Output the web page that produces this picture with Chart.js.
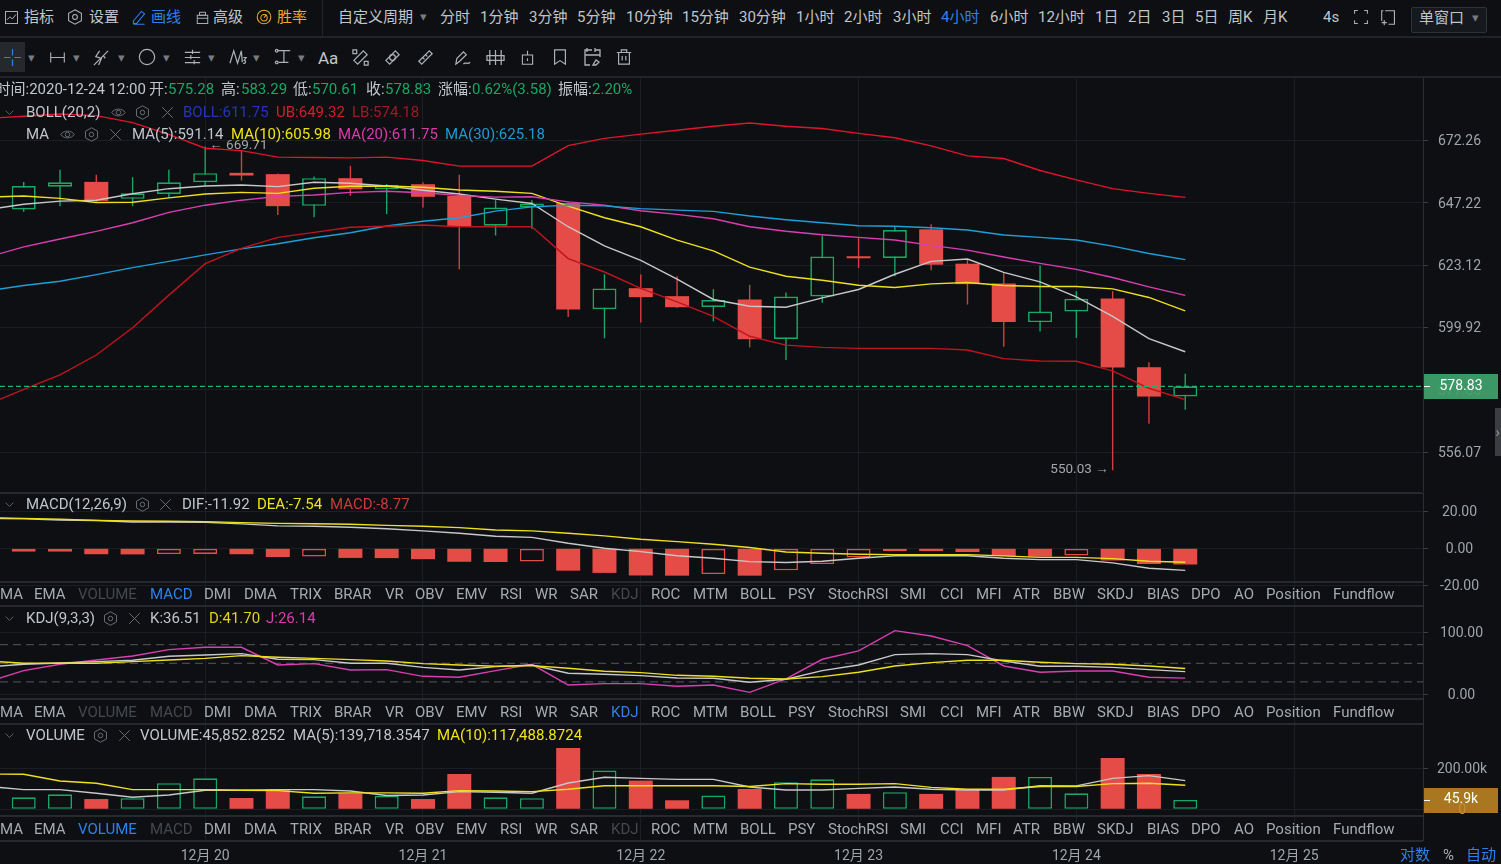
<!DOCTYPE html>
<html><head><meta charset="utf-8">
<script src="https://cdn.jsdelivr.net/npm/chart.js@4"></script>
<style>
html,body{margin:0;padding:0;background:#0d0f12;overflow:hidden;width:1501px;height:864px;font-family:Roboto,"Noto Sans CJK SC",sans-serif}
canvas{position:absolute;left:0}
.t{position:absolute;white-space:nowrap;transform:translateY(-50%);font-size:15px;line-height:16px;color:#c2c6cb;z-index:5}
.h{position:absolute;background:#24272b;z-index:4}
svg.i{position:absolute;z-index:5;overflow:visible;fill:none;stroke-width:1.3}
</style></head><body>
<script>
// ---------- data ----------
const opens =[644.58,653.58,655.47,648.75,650.64,655.35,659.09,658.57,645.98,656.96,652.53,654.55,649.96,638.23,645.36,647.14,606.62,614.44,611.46,607.44,610.23,595.76,611.35,626.49,625.83,636.83,623.66,616.2,601.89,605.77,610.61,585.6,575.28];
const highs =[655.47,660.30,658.29,657.36,660.30,669.71,668.36,658.8,657.61,661.91,654.67,655.35,658.29,648.22,648.22,647.87,619.66,619.54,618.91,614.07,615.67,612.84,634.36,633.58,637.84,638.77,625.21,620.51,623.0,613.33,613.33,587.38,583.29];
const lows  =[643.66,645.86,647.54,645.86,649.15,653.86,656.0,642.38,641.49,649.96,642.76,645.36,621.52,634.43,637.07,603.76,596.01,601.78,607.2,602.15,592.71,588.2,609.0,622.0,618.91,621.15,608.37,592.92,598.5,596.12,550.03,565.83,570.61];
const closes=[653.86,655.35,647.94,650.92,655.35,658.97,658.01,645.86,656.96,652.53,654.26,649.55,638.11,645.36,646.91,606.51,614.33,611.09,607.37,610.04,595.66,611.35,626.37,625.71,636.56,623.27,615.95,601.89,605.77,610.46,585.46,575.24,578.83];
// line series start one 4h bar before the first visible candle
const ma5 =[644.5,646.64,647.86,648.22,650.76,652.77,653.86,654.26,653.58,655.35,654.95,653.86,652.13,650.64,648.63,646.91,637.84,630.48,624.94,617.8,610.23,607.74,607.37,610.83,613.96,619.66,624.55,625.44,620.4,616.8,611.2,604.0,595.9,591.14];
const ma10=[649.4,649.87,648.95,647.3,647.42,649.15,650.64,651.32,650.92,652.93,653.74,653.86,653.34,652.25,651.73,650.92,645.86,641.33,637.84,632.69,628.54,622.38,618.91,617.42,615.56,614.7,616.04,616.56,615.45,615.07,615.07,614.18,610.98,605.98];
const ma20=[626.1,630.09,633.08,636.06,639.39,643.42,646.25,648.22,649.71,650.24,651.32,651.73,651.17,650.12,649.43,649.55,647.54,646.25,644.04,642.65,640.94,637.84,636.06,634.74,633.73,632.69,630.63,628.81,626.22,623.78,621.52,618.43,614.93,611.75];
const ma30=[613.4,615.45,617.05,619.54,622.15,624.55,626.99,629.32,631.26,633.58,635.52,638.11,639.94,641.33,643.93,645.59,646.25,645.98,644.9,644.31,643.81,641.99,640.55,639.39,638.23,638.0,637.46,636.56,634.63,633.73,632.69,630.36,627.53,625.18];
const bollUp=[681.32,682.16,683.13,682.45,679.51,674.68,669.04,668.07,665.42,665.26,665.13,665.42,664.05,661.79,661.79,661.79,670.09,673.07,674.8,676.41,678.02,679.35,678.02,677.09,675.08,673.31,669.97,665.94,664.85,660.02,656.28,652.77,650.92,649.32];
const bollLow=[572.51,577.79,582.87,589.97,599.81,611.84,623.66,629.47,633.73,635.67,637.61,638.0,638.5,637.84,637.84,637.84,625.6,620.51,614.33,609.34,604.0,596.72,593.52,592.71,592.35,592.35,592.35,591.75,588.66,587.84,587.74,584.29,578.15,574.18];
const lastPrice=578.83;
const priceTicks=[672.26,647.22,623.12,599.92,577.65,556.07];
const macdHist=[-1.9,-1.8,-3.2,-3.3,-3.1,-3.05,-3.2,-4.7,-4.5,-5.2,-5.3,-5.9,-7.3,-7.4,-7.2,-12.1,-13.3,-14.7,-14.8,-13.9,-14.8,-11.9,-8.5,-5,-1.4,-1.5,-2,-4.2,-4.5,-3.9,-6.6,-8.5,-8.77];
const macdDif=[16.2,15.9,15.3,15.0,14.2,14.2,14.05,13.2,12.1,11.9,11.35,10.6,9.4,8.1,6.5,5.9,2.7,0,-1.8,-4,-5.4,-7.2,-7.7,-7,-5.4,-4,-4,-4,-5.4,-6.1,-6.1,-7.9,-10.8,-11.92];
const macdDea=[16.6,16.2,15.7,15.1,14.8,14.6,14.4,13.9,13.5,13.3,13,12.4,11.9,11.2,9.9,9.4,8.1,6.7,4.9,3.6,2.2,0.4,-2,-2.7,-3.2,-3.4,-3.4,-3.4,-4.1,-4.9,-4.9,-5.6,-7,-7.54];
const macdTicks=[20,0,-20];
const kdjK=[44.3,48.4,50.5,52.7,54.8,61.3,63.4,65.6,56.5,55.9,50,50,43.5,39.2,44.6,47.3,33.9,32.3,30.1,26.3,25.8,19.4,24.2,38.2,47.3,64,65.6,64,53.8,45.2,45.2,43.5,39.8,36.51];
const kdjD=[54,50,50,50,52.7,55.4,58,62.4,59.7,58,55.9,53.8,49.5,47.3,45.2,46.2,41.9,37.1,34.9,30.6,29,25.8,24.7,28.5,35.5,45.7,51,54.8,54.8,51.6,49.5,48.4,45.7,41.70];
const kdjJ=[20,38.2,48.4,55.4,61.8,72,75.8,75.8,47.3,49.5,39.2,39.8,29,27.4,38.2,48.4,15,17.2,17.2,12.9,15,3.2,24.7,56.5,69.9,102.7,94.1,78.5,45.7,35.5,37.6,37.6,27.4,26.14];
const kdjLevels=[80,50,20];
const kdjTicks=[100,0];
const volume=[58.5,73,50,54,127,151,55,98,63,78,65,50,172,58.5,54,299,189,140,44,67,99,132,146,75,83,75,94,158,158,78,250,172,45.85];
const volMa5=[112,96,96,78,58.5,70,93,93,96,96,89,67,70,86,83,78,128,156,151,146,146,109,94,94,102,109,98,94,94,115,114,151,164,139.72];
const volMa10=[172,171,138,127,96,96,96,93,91,78,80,80,78,91,89,86,98,115,115,115,115,111,125,122,122,125,107,98,98,111,111,125,127,117.49];
const volTicks=[200,0];
const dateTicks=[6,12,18,24,30,36];
const dateLabels=['12月 20','12月 21','12月 22','12月 23','12月 24','12月 25'];
const tabNames=['MA','EMA','VOLUME','MACD','DMI','DMA','TRIX','BRAR','VR','OBV','EMV','RSI','WR','SAR','KDJ','ROC','MTM','BOLL','PSY','StochRSI','SMI','CCI','MFI','ATR','BBW','SKDJ','BIAS','DPO','AO','Position','Fundflow'];

// ---------- style ----------
const BG='#0d0f12',UP='#17a866',DOWN='#e54b47',DOWNW='#d23f3d',GRID='#1b1e22',AX='#2c2f34',TICK='#a0a5ab';
const cUB='#e2142c',cLB='#c0141f',cM5='#c8c8c8',cM10='#efe01e',cM20='#d93fb1',cM30='#1f9fd8';
const XMIN=0.347,XMAX=39.55;
const barIdx=opens.map((_,i)=>i+1);
const xy=a=>a.map((v,k)=>({x:k,y:v}));
const hline=v=>[{x:XMIN,y:v},{x:XMAX,y:v}];
const line=(data,color,w=1.4,extra={})=>Object.assign({type:'line',data,borderColor:color,borderWidth:w,pointRadius:0,tension:0,order:1},extra);
const xScale=(labels)=>({type:'linear',min:XMIN,max:XMAX,offset:false,bounds:'data',
  grid:{color:GRID,drawTicks:false,offset:false},border:{display:false},
  afterBuildTicks:s=>{s.ticks=dateTicks.map(v=>({value:v}))},
  afterFit:s=>{s.height=labels?24:0;s.paddingLeft=0;s.paddingRight=0},
  ticks:{display:!!labels,autoSkip:false,maxRotation:0,padding:8,color:TICK,font:{family:'Roboto,"Noto Sans CJK SC"',size:14},
    callback:v=>dateLabels[dateTicks.indexOf(v)]}});
const yScale=(type,min,max,vals,fmt,pad)=>({type,position:'right',min,max,bounds:'data',
  grid:{color:GRID,tickColor:'#3a3d42',tickLength:5},border:{color:AX,width:1},
  afterBuildTicks:s=>{s.ticks=vals.map(v=>({value:v}))},
  afterFit:s=>{s.width=78;s.paddingTop=0;s.paddingBottom=0},
  ticks:{autoSkip:false,crossAlign:'center',padding:pad,labelOffset:1.5,color:TICK,font:{family:'Roboto',size:14},callback:fmt}});

const boxPlugin=(id,value,text,color,alpha)=>({id,afterDraw(c){
  const y=c.scales.y.getPixelForValue(value),a=c.chartArea,ctx=c.ctx;
  ctx.save();ctx.globalAlpha=alpha;ctx.fillStyle=color;ctx.fillRect(a.right+1,Math.round(y)-12,74,25);ctx.globalAlpha=1;
  ctx.fillStyle='#fff';ctx.fillRect(a.right+1,Math.round(y),6,1);
  ctx.font='14px Roboto';ctx.textAlign='center';ctx.textBaseline='middle';ctx.fillText(text,a.right+38,y);ctx.restore();}});
const notePlugin={id:'notes',afterDatasetsDraw(c){
  const ctx=c.ctx;ctx.save();ctx.font='13.5px Roboto';ctx.fillStyle='#a3a6aa';ctx.textBaseline='middle';
  const hi=Math.max(...highs),lo=Math.min(...lows);
  let x=c.scales.x.getPixelForValue(highs.indexOf(hi)+1);
  ctx.textAlign='left';ctx.fillText('← '+hi.toFixed(2),x+4,c.scales.y.getPixelForValue(hi)-1);
  x=c.scales.x.getPixelForValue(lows.indexOf(lo)+1);
  ctx.textAlign='right';ctx.fillText(lo.toFixed(2)+' →',x-4,c.scales.y.getPixelForValue(lo)-1);
  ctx.restore();}};

function mk(top,h,datasets,scales,plugins=[]){
  const cv=document.createElement('canvas');cv.width=1501;cv.height=h;cv.style.top=top+'px';cv.style.width='1501px';cv.style.height=h+'px';
  document.body.appendChild(cv);
  return new Chart(cv,{type:'bar',data:{datasets},plugins,options:{responsive:false,animation:false,devicePixelRatio:1,
    layout:{padding:0,autoPadding:false},events:[],plugins:{legend:{display:false},tooltip:{enabled:false}},scales}});
}
const isUp=i=>closes[i]>=opens[i];
const macdHollow=i=>i===0||macdHist[i]>macdHist[i-1];

// main pane
mk(77,415,[
  line(hline(lastPrice),'#1db46f',1.2,{borderDash:[5,3],order:0}),
  line(xy(bollUp),cUB),line(xy(bollLow),cLB),
  line(xy(ma30),cM30),line(xy(ma20),cM20),line(xy(ma10),cM10),line(xy(ma5),cM5),
  {type:'bar',order:3,grouped:false,barThickness:24,borderSkipped:false,inflateAmount:0,
    borderWidth:c=>isUp(c.dataIndex)?1.7:0,
    data:opens.map((o,i)=>({x:barIdx[i],y:[o,closes[i]]})),
    backgroundColor:c=>isUp(c.dataIndex)?BG:DOWN,borderColor:c=>isUp(c.dataIndex)?UP:DOWN},
  {type:'bar',order:4,grouped:false,barThickness:1.4,borderWidth:0,inflateAmount:0,
    data:lows.map((l,i)=>({x:barIdx[i],y:[l,highs[i]]})),
    backgroundColor:c=>isUp(c.dataIndex)?UP:DOWNW},
],{x:xScale(false),y:yScale('logarithmic',542.8,698.65,priceTicks,v=>v.toFixed(2),10)},
[notePlugin,boxPlugin('pbox',lastPrice,lastPrice.toFixed(2),'#3fa36d',0.93)]);

// MACD pane
mk(493,113,[
  line(xy(macdDea),cM10,1.4,{order:0}),line(xy(macdDif),cM5,1.4,{order:1}),
  {type:'bar',order:3,grouped:false,barThickness:24,borderSkipped:false,inflateAmount:0,
    borderWidth:c=>macdHollow(c.dataIndex)?1.6:0,
    data:macdHist.map((v,i)=>({x:barIdx[i],y:v})),
    backgroundColor:c=>macdHollow(c.dataIndex)?BG:DOWN,borderColor:DOWN},
],{x:xScale(false),y:yScale('linear',-31.2,29.9,macdTicks,v=>v.toFixed(2),12)});

// KDJ pane
mk(606,118,[
  ...kdjLevels.map(v=>line(hline(v),'#55585e',1,{borderDash:[8,5],order:5})),
  line(xy(kdjJ),cM20,1.4,{order:2}),line(xy(kdjK),cM5,1.4,{order:1}),line(xy(kdjD),cM10,1.4,{order:0}),
],{x:xScale(false),y:yScale('linear',-47.9,142.4,kdjTicks,v=>v.toFixed(2),12)});

// Volume pane
mk(724,140,[
  line(xy(volMa10),cM10,1.4,{order:0}),line(xy(volMa5),cM5,1.4,{order:1}),
  {type:'bar',order:3,grouped:false,barThickness:24,borderSkipped:false,inflateAmount:0,
    borderWidth:c=>isUp(c.dataIndex)?1.6:0,
    data:volume.map((v,i)=>({x:barIdx[i],y:v})),
    backgroundColor:c=>isUp(c.dataIndex)?BG:DOWN,borderColor:c=>isUp(c.dataIndex)?UP:DOWN},
],{x:xScale(true),y:yScale('linear',-149.8,416,volTicks,v=>v===0?'0':v.toFixed(2)+'k',9)},
[boxPlugin('vbox',volume[volume.length-1],'45.9k','#c68a22',0.85)]);

// ---------- chrome (text and icons) ----------
function T(x,y,s,c,size){const d=document.createElement('div');d.className='t';d.style.left=x+'px';d.style.top=y+'px';d.textContent=s;if(c)d.style.color=c;if(size)d.style.fontSize=size+'px';document.body.appendChild(d);return d}
function H(x,y,w,h,c){const d=document.createElement('div');d.className='h';d.style.cssText+=`left:${x}px;top:${y}px;width:${w}px;height:${h}px;`+(c?`background:${c};`:'');document.body.appendChild(d);return d}
function I(cx,cy,s,inner,color){const n='http://www.w3.org/2000/svg',g=document.createElementNS(n,'svg');g.setAttribute('class','i');g.setAttribute('width',s);g.setAttribute('height',s);g.setAttribute('viewBox','0 0 20 20');g.style.left=(cx-s/2)+'px';g.style.top=(cy-s/2)+'px';g.style.stroke=color||'#aeb2b7';g.innerHTML=inner;document.body.appendChild(g);return g}
const hex='<path d="M10 1l8 4.5v9L10 19l-8-4.5v-9z"/><circle cx="10" cy="10" r="3"/>';
const eye='<path d="M1 10c4-6 14-6 18 0c-4 6-14 6-18 0z"/><circle cx="10" cy="10" r="3"/>';
const cross='<path d="M3 3l14 14M17 3L3 17"/>';
const chev='<path d="M4 7l6 6 6-6"/>';
const tri=(x,y)=>T(x,y,'▾','#777b80',13);

// horizontal separators
[[0,36,1501],[0,76,1501],[0,492,1423],[0,580.5,1423],[0,605,1423],[0,698,1423],[0,723,1423],[0,815,1423],[0,840,1423]].forEach(a=>H(a[0],a[1],a[2],2,a[1]===36||a[1]===76?'#202327':'#26292e'));
H(322,0,1,36,'#202327');

// top toolbar
const dim='#c2c6cb',blue='#2f80ed',orange='#f0a92e';
I(11,17,15,'<rect x="2" y="2" width="16" height="16"/><path d="M4 13l4-4 3 3 5-6"/>');T(24,17,'指标',dim);
I(75,17,16,hex);T(89,17,'设置',dim);
I(139,17,16,'<path d="M3 15L13 3l4 3L7 18H3zM3 19h14"/>',blue);T(151,17,'画线',blue);
I(202,17,15,'<rect x="3" y="7" width="14" height="11"/><path d="M6 3h8v4H6zM3 11h14"/>');T(213,17,'高级',dim);
I(264,17,16,'<circle cx="10" cy="10" r="8.5"/><circle cx="10" cy="11" r="4"/><path d="M10 11l3-4"/>',orange);T(277,17,'胜率',orange);
[[338,'自定义周期'],[440,'分时'],[480,'1分钟'],[529,'3分钟'],[577,'5分钟'],[626,'10分钟'],[682,'15分钟'],[739,'30分钟'],[796,'1小时'],[844,'2小时'],[893,'3小时'],[941,'4小时',blue],[990,'6小时'],[1038,'12小时'],[1095,'1日'],[1128,'2日'],[1162,'3日'],[1195,'5日'],[1228,'周K'],[1263,'月K'],[1323,'4s']].forEach(a=>T(a[0],17,a[1],a[2]||dim));
tri(420,17);
I(1361,17,16,'<path d="M2 6V2h4M14 2h4v4M18 14v4h-4M6 18H2v-4"/>');
I(1388,17,17,'<path d="M6 2h11v16h-7M2 14v-12h2M2 16h6M5 13v6"/>');
const win=H(1411,7,74,24,'transparent');win.style.border='1px solid #2f3236';win.style.borderRadius='2px';win.style.background='#15181c';
T(1419,18,'单窗口',dim);tri(1472,18);

// drawing toolbar
H(0,42,25,30,'#25282d');
I(12,57,19,'<path d="M10 1v7M10 12v7M1 10h7M12 10h7"/>',blue);
[32,77,122,167,212,257,302].forEach(x=>tri(x-4,58));
I(57,57,17,'<path d="M2 4v12M18 4v12M2 10h16"/>');
I(100,57,19,'<path d="M3 18L18 3M9 3l-4 6 6 2-3 7M13 8l2 3"/>');
I(147,57,18,'<circle cx="10" cy="10" r="8.5"/>');
I(192,57,17,'<path d="M1 4h18M1 10h18M1 16h18M10 1v5M8 7v5M12 13v5"/>');
I(238,57,19,'<path d="M1 16L5 3l4 13 4-13 1 12"/><path d="M15 10h3l-2 3c2 0 2 4-1 3"/>');
I(283,57,18,'<path d="M4 3h14M11 3v13M5 16h11"/><circle cx="3" cy="3" r="1.5"/><circle cx="3" cy="16" r="1.5"/>');
T(318,57.5,'Aa',dim,17);
I(360,57,19,'<path d="M3 13L13 3l4 4L7 17z"/><path d="M2 2h4v4H2zM14 14h4v4h-4z"/>');
I(392,57,19,'<path d="M3 13L13 3l4 4L7 17z"/><circle cx="10" cy="10" r="3"/>');
I(425,57,19,'<path d="M3 14L14 3l3 3L6 17zM7 10l2 2M10 7l2 2"/>');
I(462,57,19,'<path d="M3 17L4 11 11 4l3 3-7 7zM11 17c2-3 4 1 7-2"/>');
I(495,57,19,'<path d="M4 2v16M10 2v16M16 2v16"/><path d="M1 8h18v5H1z"/>');
I(527,57,17,'<path d="M4 7h12v11H4zM10 2v5M10 11v3"/>');
I(560,57,18,'<path d="M4 2h12v16l-6-4-6 4z"/>');
I(592,57,20,'<path d="M10 3H3v15h5M13 3h5v7M5 1v4M13 1v4M3 8h15M11 18l3-5 3 2-3 3z"/>');
I(624,57,18,'<path d="M2 5h16M7 5V2h6v3M4 5v13h12V5M8 9v5M12 9v5"/>');

// OHLC row
const G='#17a866',W='#c2c6cb';
[[-4.5,'时间:2020-12-24 12:00',W],[149,'开:',W],[168,'575.28',G],[221,'高:',W],[241,'583.29',G],[293,'低:',W],[312,'570.61',G],[366,'收:',W],[385,'578.83',G],[438,'涨幅:',W],[472,'0.62%(3.58)',G],[558,'振幅:',W],[592,'2.20%',G]].forEach(a=>T(a[0],89,a[1],a[2]));

// pane legends
const legend=(y,items)=>items.forEach(a=>T(a[0],y,a[1],a[2]));
const ic=(x,y,inner)=>I(x,y,15,inner,'#6b6f74');
I(9,112,13,chev,'#6b6f74');legend(112,[[26,'BOLL(20,2)',W],[183,'BOLL:611.75','#2437b5'],[276,'UB:649.32','#d31f2b'],[352,'LB:574.18','#a01a22']]);ic(118,112,eye);ic(142,112,hex);ic(167,112,cross);
legend(134,[[26,'MA',W],[132,'MA(5):591.14',W],[231,'MA(10):605.98','#f0e316'],[338,'MA(20):611.75','#d93cab'],[445,'MA(30):625.18','#1e9cd0']]);ic(67,134,eye);ic(91,134,hex);ic(115,134,cross);
I(9,504,13,chev,'#6b6f74');legend(504,[[26,'MACD(12,26,9)',W],[182,'DIF:-11.92',W],[257,'DEA:-7.54','#f0e316'],[330,'MACD:-8.77','#cf3a36']]);ic(142,504,hex);ic(165,504,cross);
I(9,618,13,chev,'#6b6f74');legend(618,[[26,'KDJ(9,3,3)',W],[150,'K:36.51',W],[209,'D:41.70','#e3d317'],[266,'J:26.14','#d93cab']]);ic(110,618,hex);ic(134,618,cross);
I(9,735,13,chev,'#6b6f74');legend(735,[[26,'VOLUME',W],[140,'VOLUME:45,852.8252',W],[293,'MA(5):139,718.3547',W],[437,'MA(10):117,488.8724','#f0e316']]);ic(100,735,hex);ic(124,735,cross);

// indicator tab rows
const tabX=[0,34,78,150,204,244,290,334,385,415,456,500,535,570,611,651,693,740,788,828,900,940,976,1013,1053,1097,1147,1191,1234,1266,1333];
[[594,'MACD',['VOLUME','KDJ']],[712,'KDJ',['VOLUME','MACD']],[829,'VOLUME',['MACD','KDJ']]].forEach(r=>{
  tabNames.forEach((n,i)=>T(tabX[i],r[0],n,n===r[1]?blue:(r[2].includes(n)?'#45484d':'#a6abb1')));
});

// bottom right and side tab
T(1400,855,'对数',blue);T(1443,855,'%','#a6abb1');T(1466,855,'自动',blue);
H(1495,408,6,48,'#3a3d41');T(1495.5,432,'›','#9a9da1',14);
</script>
</body></html>
